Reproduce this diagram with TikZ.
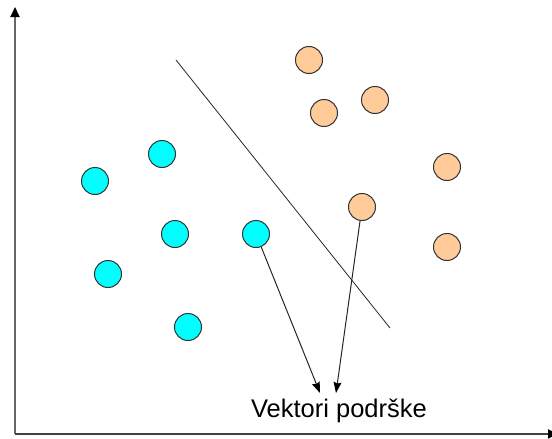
\documentclass[tikz,border=0pt]{standalone}
\usepackage{fontspec}
\setmainfont{Liberation Sans}
\usetikzlibrary{arrows.meta}
\definecolor{cyanfill}{HTML}{00FFFF}
\definecolor{peach}{HTML}{FFCC99}
\definecolor{rim}{HTML}{333333}
\begin{document}
\begin{tikzpicture}[x=1pt,y=-1pt,
  pt/.style={circle,draw=rim,line width=1pt,minimum size=27pt,inner sep=0pt},
  cpt/.style={pt,fill=cyanfill},
  opt/.style={pt,fill=peach},
  axis/.style={line width=1.8pt,draw=black!60,-{Triangle[length=10pt,width=9pt,fill=black,color=black]}},
  sv/.style={line width=1pt,draw=black!85,-{Stealth[length=11pt,width=8pt,inset=1.5pt,fill=black,color=black]}}]
\useasboundingbox (0,0) rectangle (552,439);
% axes
\coordinate (O) at (15,434);
\coordinate (ytop) at (15,7);
\coordinate (xend) at (558,434);
\draw[axis] (O) -- (ytop);
\draw[axis,draw=black!75] (O) -- (xend);
% cyan points
\node[cpt] (c1) at (95,181) {};
\node[cpt] (c2) at (162,154) {};
\node[cpt] (c3) at (175,234) {};
\node[cpt] (c4) at (108,274) {};
\node[cpt] (c5) at (188,327) {};
\node[cpt] (c6) at (256,234) {};
% orange points
\node[opt] (o1) at (309,60) {};
\node[opt] (o2) at (324,113) {};
\node[opt] (o3) at (375,100) {};
\node[opt] (o4) at (447,167) {};
\node[opt] (o5) at (362,207) {};
\node[opt] (o6) at (447,247) {};
% separating line
\coordinate (s1) at (176,60);
\coordinate (s2) at (390,328);
\draw[line width=0.8pt,black!85] (s1) -- (s2);
% label and arrows
\node[anchor=base,font=\fontsize{25.5pt}{28pt}\selectfont,inner sep=0pt] (lbl) at (339,417) {Vektori podrške};
\coordinate (t1) at (320,393);
\coordinate (t2) at (336,393);
\draw[sv] (c6) -- (t1);
\draw[sv] (o5) -- (t2);
\end{tikzpicture}
\end{document}
